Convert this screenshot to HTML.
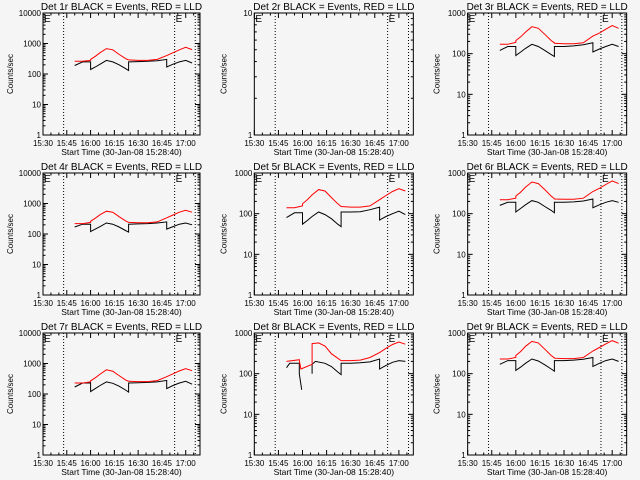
<!DOCTYPE html>
<html><head><meta charset="utf-8"><style>
html,body{margin:0;padding:0;background:#f5f5f5;}
svg{display:block;font-family:"Liberation Sans",sans-serif;}
</style></head><body>
<svg id="c" width="640" height="480" viewBox="0 0 640 480"></svg>
<script>
const xTickLabels = ["15:30","15:45","16:00","16:15","16:30","16:45","17:00"];
const xTickMinutes = [0,15,30,45,60,75,90];
const dottedMinutes = [13,83,96];
const titles = ["Det 1r","Det 2r","Det 3r","Det 4r","Det 5r","Det 6r","Det 7r","Det 8r","Det 9r"];
const yMaxDecades = [4,1,3,4,3,3,4,3,3];
const T = [20,25,30,30,33,36,40,44,48,52,54,54,60,66,72,78,78,82,86,90,94];
const black1 = [190,250,250,140,170,210,280,250,200,150,130,250,255,260,270,300,170,210,250,280,230];
const red1 = [260,260,280,300,380,500,680,620,440,320,290,290,280,280,300,400,400,500,620,750,630];
const black3 = [120,150,150,90,110,135,170,150,120,95,85,150,150,155,165,185,110,130,150,170,150];
const red3 = [170,170,190,210,260,340,460,420,300,210,185,180,175,175,185,270,270,320,400,490,420];
const black4 = [170,210,210,120,145,175,230,210,170,130,115,210,215,220,230,250,145,175,210,230,200];
const red4 = [220,220,240,260,330,430,560,520,370,270,240,240,235,235,250,340,340,420,520,600,520];
const black5 = [80,105,105,55,68,85,110,95,75,55,48,110,110,112,125,145,70,85,100,115,95];
const red5 = [140,140,155,175,220,290,390,360,250,175,150,150,145,145,155,220,220,280,350,410,360];
const black6 = [160,190,190,110,135,165,210,190,150,120,105,190,190,195,205,230,140,165,190,210,190];
const red6 = [220,220,240,270,340,450,600,550,390,270,235,230,225,225,240,350,350,420,520,640,550];
const black7 = [170,230,230,120,150,190,250,225,180,135,115,230,235,240,250,280,150,190,230,260,210];
const red7 = [230,230,250,270,340,450,620,560,400,290,260,260,255,255,275,370,370,460,570,680,580];
const black9 = [170,210,210,120,145,180,230,205,165,130,115,210,210,215,225,250,150,180,210,230,200];
const red9 = [230,230,250,280,350,470,620,570,400,280,245,240,235,235,250,360,360,440,540,650,560];
const T8black = [20,22,28,28,29.5,33,36,36,38,44,48,52,54,54,60,66,72,78,78,82,86,90,94];
const black8 = [140,180,180,100,40,null,100,170,200,180,150,110,95,180,180,185,195,230,130,160,190,210,200];
const T8red = [20,28,28,29,36,36,40,44,48,54,60,66,72,78,82,86,90,94];
const red8 = [200,220,210,130,170,550,570,480,310,210,210,215,250,330,420,520,600,530];

const series = [
 [[T,black1],[T,red1]], [], [[T,black3],[T,red3]],
 [[T,black4],[T,red4]], [[T,black5],[T,red5]], [[T,black6],[T,red6]],
 [[T,black7],[T,red7]], [[T8black,black8],[T8red,red8]], [[T,black9],[T,red9]]
];
const svg = document.getElementById('c');
const NS = "http://www.w3.org/2000/svg";
function mk(tag, attrs, parent){const e=document.createElementNS(NS,tag);for(const k in attrs)e.setAttribute(k,attrs[k]);parent.appendChild(e);return e;}

for(let p=0;p<9;p++){
  const col=p%3,row=Math.floor(p/3);
  const px=col*213.33,py=row*160;
  const dec=yMaxDecades[p];
  const L=px+(dec>=4?43:41),R=px+200,Tp=py+13,B=py+135;
  const g=mk('g',{},svg);
  
  
  const xs=m=>L+(m/99)*(R-L);
  const ys=v=>B-(Math.log10(v)/dec)*(B-Tp);
  const title=mk('text',{x:(L+R)/2,y:py+10,'text-anchor':'middle','font-size':'10',fill:'#000'},g);
  title.textContent=titles[p]+" BLACK = Events, RED = LLD";
  
  
  const frame=mk('rect',{x:L,y:Tp,width:R-L,height:B-Tp,fill:'none',stroke:'#000','stroke-width':1},g);
  
  
  for(let d=0;d<=dec;d++){
    const y=ys(Math.pow(10,d));
    mk('line',{x1:L,x2:L+5,y1:y,y2:y,stroke:'#000'},g);
    mk('line',{x1:R,x2:R-5,y1:y,y2:y,stroke:'#000'},g);
    const t=mk('text',{x:L-2,y:y+3,'text-anchor':'end','font-size':'8',fill:'#000'},g);
    t.textContent=String(Math.pow(10,d));
    
    
    if(d<dec)for(let k=2;k<10;k++){const yy=ys(k*Math.pow(10,d));
      mk('line',{x1:L,x2:L+2.5,y1:yy,y2:yy,stroke:'#000'},g);
      mk('line',{x1:R,x2:R-2.5,y1:yy,y2:yy,stroke:'#000'},g);}
  }
  for(let i=0;i<xTickMinutes.length;i++){
    const x=xs(xTickMinutes[i]);
    mk('line',{x1:x,x2:x,y1:B,y2:B-5,stroke:'#000'},g);
    mk('line',{x1:x,x2:x,y1:Tp,y2:Tp+5,stroke:'#000'},g);
    const t=mk('text',{x:x,y:py+146,'text-anchor':'middle','font-size':'8',fill:'#000'},g);
    t.textContent=xTickLabels[i];
    
    
  }
  for(let m=5;m<99;m+=5){if(m%15){const x=xs(m);mk('line',{x1:x,x2:x,y1:B,y2:B-2.5,stroke:'#000'},g);mk('line',{x1:x,x2:x,y1:Tp,y2:Tp+2.5,stroke:'#000'},g);}}
  const xl=mk('text',{x:(L+R)/2,y:py+155,'text-anchor':'middle','font-size':'8.5',fill:'#000'},g);
  xl.textContent="Start Time (30-Jan-08 15:28:40)";
  
  
  const yl=mk('text',{x:0,y:0,'text-anchor':'middle','font-size':'8',fill:'#000',transform:`translate(${px+13},${(Tp+B)/2}) rotate(-90)`},g);
  yl.textContent="Counts/sec";
  
  
  for(const m of dottedMinutes){const x=xs(m);
    const dl=mk('line',{x1:x,x2:x,y1:Tp,y2:B,stroke:'#000','stroke-dasharray':'1,2'},g);
    
    }
  for(const xe of [L+1,xs(dottedMinutes[1])+1]){
    const e=mk('text',{x:xe,y:Tp+9,'font-size':'10',fill:'#000'},g);
    e.textContent="E";
    
    }
  const cols=['#000','#ff0000'];
  series[p].forEach((s,si)=>{
    const [ts,vs]=s;let d="",pen=false;
    for(let i=0;i<ts.length;i++){
      if(vs[i]==null){pen=false;continue;}
      d+=(pen?"L":"M")+xs(ts[i]).toFixed(1)+","+ys(vs[i]).toFixed(1);pen=true;}
    const path=mk('path',{d:d,fill:'none',stroke:cols[si],'stroke-width':1},g);
    
    
  });
}
</script>
</body></html>
